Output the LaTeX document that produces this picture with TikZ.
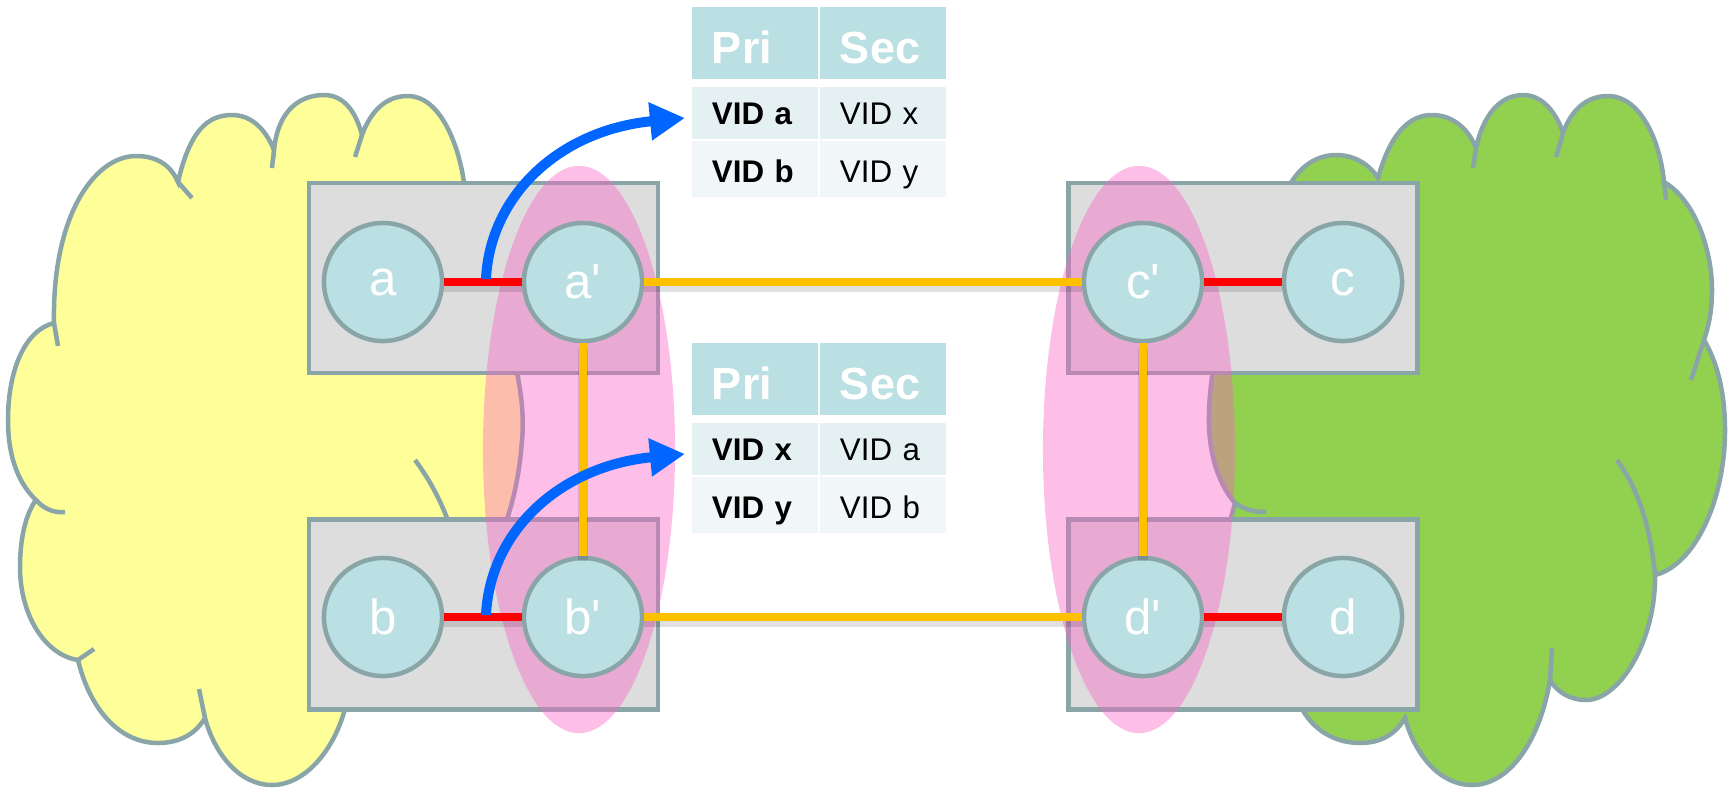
\documentclass[tikz,border=0pt]{standalone}
\usepackage{fontspec}
\setmainfont{Liberation Sans}
\usetikzlibrary{arrows.meta,shapes.geometric}
\definecolor{edgegray}{RGB}{138,165,168}
\definecolor{portfill}{RGB}{187,224,227}
\definecolor{boxfill}{RGB}{221,221,221}
\definecolor{cloudY}{RGB}{255,255,153}
\definecolor{cloudG}{RGB}{146,208,80}
\definecolor{zonepink}{RGB}{250,99,196}
\definecolor{linkred}{RGB}{255,0,0}
\definecolor{linkorange}{RGB}{255,192,0}
\definecolor{flowblue}{RGB}{0,102,255}
\definecolor{rowone}{RGB}{228,240,242}
\definecolor{rowtwo}{RGB}{241,247,248}
\tikzset{bridge/.style={draw=edgegray,fill=boxfill,line width=0.045cm,minimum width=3.49cm,minimum height=1.9cm,inner sep=0pt},
port/.style={circle,draw=edgegray,fill=portfill,line width=0.045cm,minimum size=1.18cm,inner sep=0pt,text=white,font=\fontsize{14}{16}\selectfont},
zone/.style={ellipse,fill=zonepink,fill opacity=0.41,minimum width=1.92cm,minimum height=5.67cm,inner sep=0pt},
cloudline/.style={draw=edgegray,line width=0.045cm},
hook/.style={draw=edgegray,line width=0.045cm},
cell/.style={inner xsep=0.2cm,inner ysep=0pt,text width=0.86cm,align=left},
hdr/.style={cell,fill=portfill,text=white,font=\fontsize{12.8}{14}\selectfont\bfseries,minimum height=0.72cm,text height=0.4cm,text depth=0cm},
rowa/.style={cell,fill=rowone,minimum height=0.52cm,text height=0.27cm,text depth=0.05cm,font=\fontsize{8.9}{10}\selectfont},
rowb/.style={cell,fill=rowtwo,minimum height=0.56cm,text height=0.3cm,text depth=0.04cm,font=\fontsize{8.9}{10}\selectfont},
linkshadow/.style={preaction={draw=black,opacity=0.12,line width=0.1cm,transform canvas={yshift=-0.05cm}}},
lan/.style={linkshadow,linkred,line width=0.08cm},
trunk/.style={linkshadow,linkorange,line width=0.08cm},
flow/.style={flowblue,line width=0.1cm,-{Triangle[length=0.35cm,width=0.36cm]}}}
\begin{document}
\begin{tikzpicture}[x=0.01cm,y=-0.01cm]
\useasboundingbox(0,0)rectangle(1730,787);
\path[cloudline,fill=cloudY](54,323)..controls(52,215)and(95,156)..(136,156)..controls(160,156)and(172,168)..(178,182)
 ..controls(190,130)and(208,115)..(232,115)..controls(252,115)and(266,130)..(274,150)
 ..controls(278,110)and(300,95)..(324,95)..controls(344,95)and(356,112)..(362,135)
 ..controls(372,108)and(388,96)..(408,96)..controls(440,96)and(460,145)..(465,190)--(516,368)
 ..controls(522,395)and(524,420)..(522,440)..controls(520,470)and(514,500)..(505,525)--(346,705)
 ..controls(335,750)and(305,785)..(272,785)..controls(240,785)and(215,755)..(205,718)
 ..controls(195,735)and(178,743)..(158,743)..controls(120,743)and(90,710)..(78,660)
 ..controls(45,655)and(20,615)..(20,567)..controls(20,535)and(27,512)..(36,500)
 ..controls(15,480)and(8,450)..(8,420)..controls(8,370)and(25,330)..(54,323)--cycle;
\path[hook](54,323)--(58,346)(178,182)--(192,198)(274,150)--(272,168)(362,135)--(355,157)
 (36,500)..controls(45,510)and(55,513)..(65,512)(78,660)--(94,649)(205,718)--(199,689)
 (415,460)..controls(430,480)and(440,500)..(447,518);
\path[cloudline,fill=cloudG](1288,188)..controls(1300,165)and(1318,155)..(1336,155)..controls(1355,155)and(1370,165)..(1378,178)
 ..controls(1390,135)and(1408,115)..(1432,115)..controls(1452,115)and(1468,128)..(1476,148)
 ..controls(1484,112)and(1502,95)..(1523,95)..controls(1542,95)and(1556,112)..(1563,133)
 ..controls(1572,108)and(1588,96)..(1608,96)..controls(1640,96)and(1660,140)..(1664,182)
 ..controls(1695,200)and(1712,250)..(1712,290)..controls(1712,310)and(1709,325)..(1704,340)
 ..controls(1716,360)and(1725,390)..(1725,430)..controls(1725,500)and(1695,565)..(1655,575)
 ..controls(1656,640)and(1620,700)..(1586,700)..controls(1570,700)and(1557,692)..(1550,680)
 ..controls(1540,740)and(1510,785)..(1472,785)..controls(1440,785)and(1415,755)..(1405,718)
 ..controls(1395,735)and(1380,743)..(1360,743)..controls(1335,743)and(1312,730)..(1300,705)
 --(1229,525)--(1235,503)..controls(1215,480)and(1208,445)..(1209,415)..controls(1209,400)and(1211,385)..(1213,368)--cycle;
\path[hook](1476,148)--(1473,168)(1563,133)--(1556,157)(1664,182)--(1666,200)(1704,340)--(1691,380)
 (1617,460)..controls(1635,485)and(1650,520)..(1655,575)(1550,680)--(1552,648)
 (1235,503)..controls(1245,510)and(1255,512)..(1266,512);
\node[bridge](brA)at(483.5,278){};
\node[bridge](brB)at(483.5,614.5){};
\node[bridge](brC)at(1243,278){};
\node[bridge](brD)at(1243,614.5){};
\node[hdr](upPri)at(755,43){Pri};
\node[hdr](upSec)at(883,43){Sec};
\node[rowa](upVa)at(755,113){\textbf{VID a}};
\node[rowa](upVx)at(883,113){VID x};
\node[rowb](upVb)at(755,169){\textbf{VID b}};
\node[rowb](upVy)at(883,169){VID y};
\node[hdr](loPri)at(755,379){Pri};
\node[hdr](loSec)at(883,379){Sec};
\node[rowa](loVx)at(755,449){\textbf{VID x}};
\node[rowa](loVa)at(883,449){VID a};
\node[rowb](loVy)at(755,505){\textbf{VID y}};
\node[rowb](loVb)at(883,505){VID b};
\node[zone](zoneL)at(579,449.5){};
\node[zone](zoneR)at(1139,449.5){};
\node[port](a)at(383,282){a};
\node[port](a2)at(583,282){a\textquotesingle};
\node[port](b)at(383,617){b};
\node[port](b2)at(583,617){b\textquotesingle};
\node[port](c2)at(1143,282){c\textquotesingle};
\node[port](c)at(1343,282){c};
\node[port](d2)at(1143,617){d\textquotesingle};
\node[port](d)at(1343,617){d};
\foreach\u/\v in{a/a2,b/b2,c2/c,d2/d}\draw[lan](\u)--(\v);
\foreach\u/\v in{a2/c2,b2/d2,a2/b2,c2/d2}\draw[trunk](\u)--(\v);
\coordinate(fromA)at(486,279);
\coordinate(toA)at(685,118);
\coordinate(fromB)at(486,615);
\coordinate(toB)at(685,454);
\draw[flow](fromA)..controls(490,195)and(560,130)..(toA);
\draw[flow](fromB)..controls(490,531)and(560,466)..(toB);
\end{tikzpicture}
\end{document}
